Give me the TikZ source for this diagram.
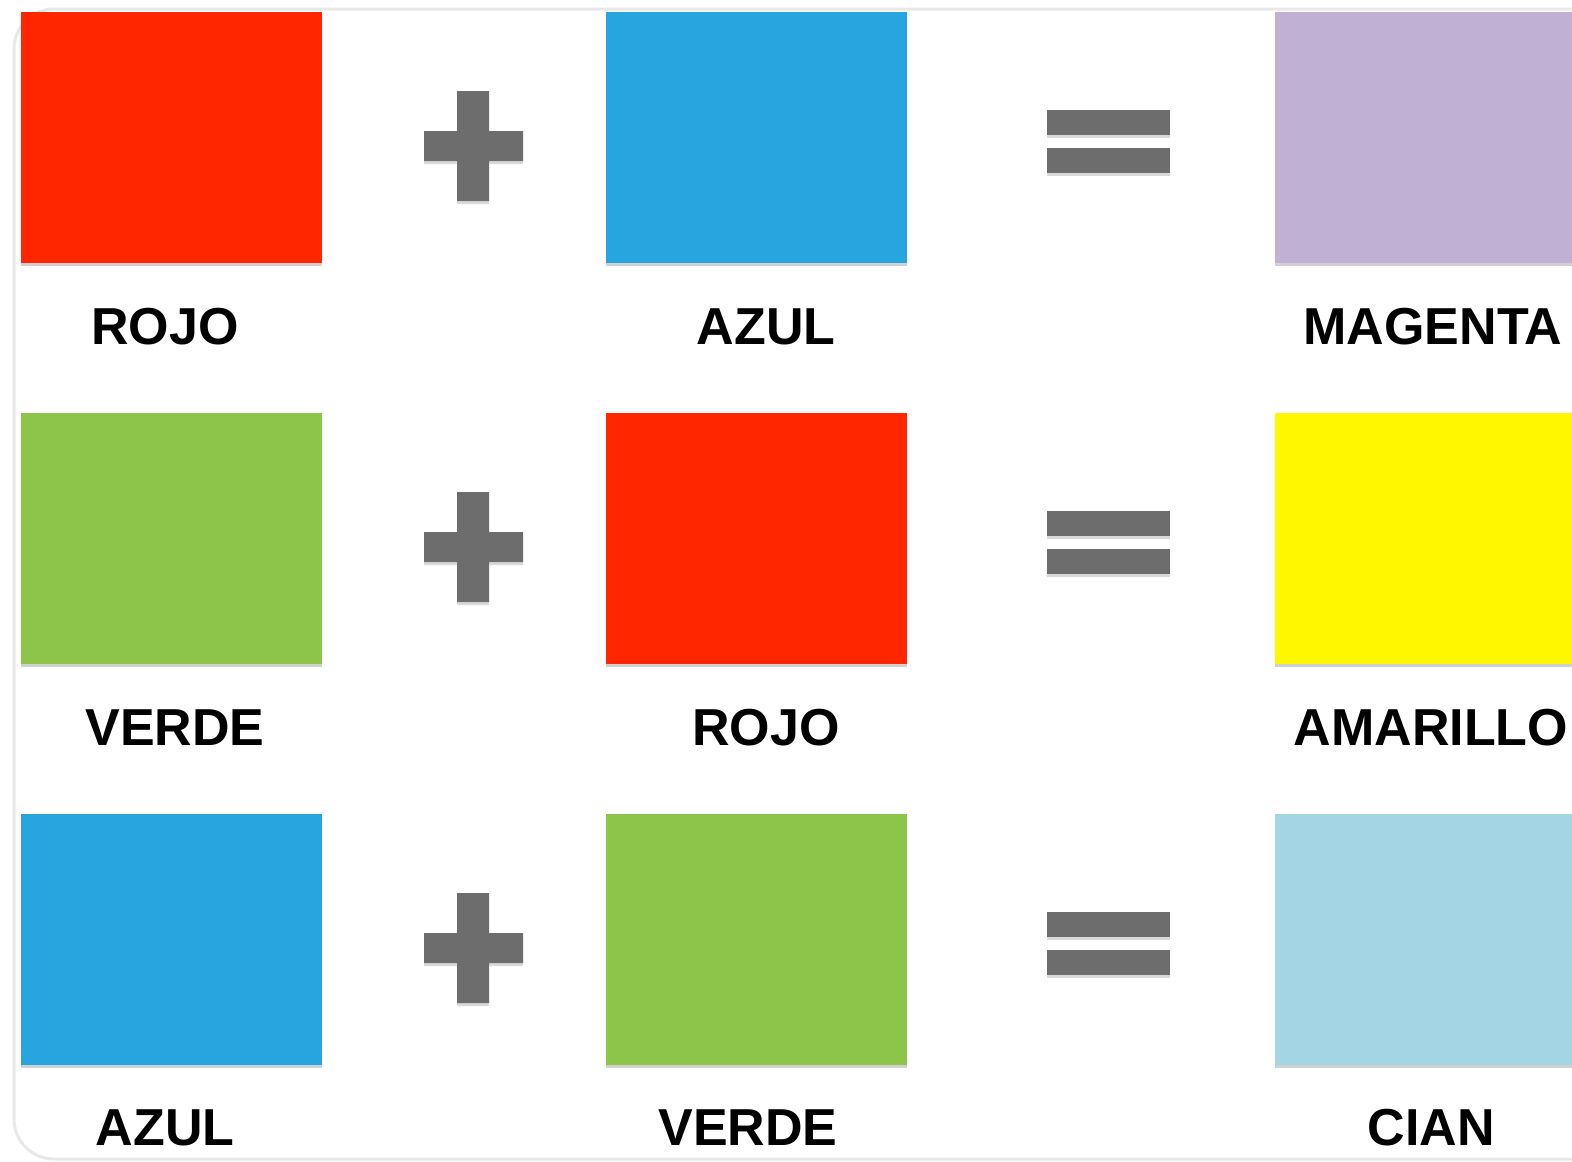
\documentclass[tikz,border=0pt]{standalone}
\usepackage{fontspec}
\setmainfont{Liberation Sans}
\definecolor{cred}{HTML}{FF2600}
\definecolor{cblue}{HTML}{26A5DE}
\definecolor{clav}{HTML}{C0B0D4}
\definecolor{cgreen}{HTML}{8DC44A}
\definecolor{cyel}{HTML}{FFF700}
\definecolor{ccyan}{HTML}{A3D5E5}
\definecolor{csym}{HTML}{6D6D6D}
\definecolor{cframe}{HTML}{E8E8E8}
\begin{document}
\begin{tikzpicture}[x=1pt,y=-1pt,
  swatch/.style={rectangle,inner sep=0pt,minimum width=301pt,minimum height=251pt,anchor=north west,
    preaction={fill=black,opacity=0.18,transform canvas={xshift=0pt,yshift=-3pt}}},
  lbl/.style={font=\fontsize{52}{60}\selectfont\bfseries,inner sep=0pt,anchor=base},
  sym/.style={fill=csym,preaction={fill=black,opacity=0.15,transform canvas={yshift=-3pt}}}]
\useasboundingbox (0,0) rectangle (1572,1162);
\begin{scope}
\clip (0,0) rectangle (1572,1162);
\draw[cframe,line width=3pt,rounded corners=40pt] (14,9) rectangle (1650,1159);
\end{scope}
% row 1
\node[swatch,fill=cred] (r1a) at (21,12) {};
\node[swatch,fill=cblue] (r1b) at (606,12) {};
\node[swatch,fill=clav] (r1c) at (1275,12) {};
% row 2
\node[swatch,fill=cgreen] (r2a) at (21,413) {};
\node[swatch,fill=cred] (r2b) at (606,413) {};
\node[swatch,fill=cyel] (r2c) at (1275,413) {};
% row 3
\node[swatch,fill=cblue] (r3a) at (21,814) {};
\node[swatch,fill=cgreen] (r3b) at (606,814) {};
\node[swatch,fill=ccyan] (r3c) at (1275,814) {};
% labels
\node[lbl] (l1a) at (165,344) {ROJO};
\node[lbl] (l1b) at (766,344) {AZUL};
\node[lbl] (l1c) at (1433,344) {MAGENTA};
\node[lbl] (l2a) at (175,745) {VERDE};
\node[lbl] (l2b) at (766,745) {ROJO};
\node[lbl] (l2c) at (1431,745) {AMARILLO};
\node[lbl] (l3a) at (165,1145) {AZUL};
\node[lbl] (l3b) at (748,1145) {VERDE};
\node[lbl] (l3c) at (1431,1145) {CIAN};
% plus and equals signs
\foreach \dy in {0,401,802}{
  \begin{scope}[yshift=-\dy pt]
  \path[sym] (457,91) -- (489,91) -- (489,131) -- (523,131) -- (523,161) -- (489,161) -- (489,201) -- (457,201) -- (457,161) -- (424,161) -- (424,131) -- (457,131) -- cycle;
  \path[sym] (1047,110) rectangle (1170,135);
  \path[sym] (1047,148) rectangle (1170,173);
  \end{scope}
}
\end{tikzpicture}
\end{document}
